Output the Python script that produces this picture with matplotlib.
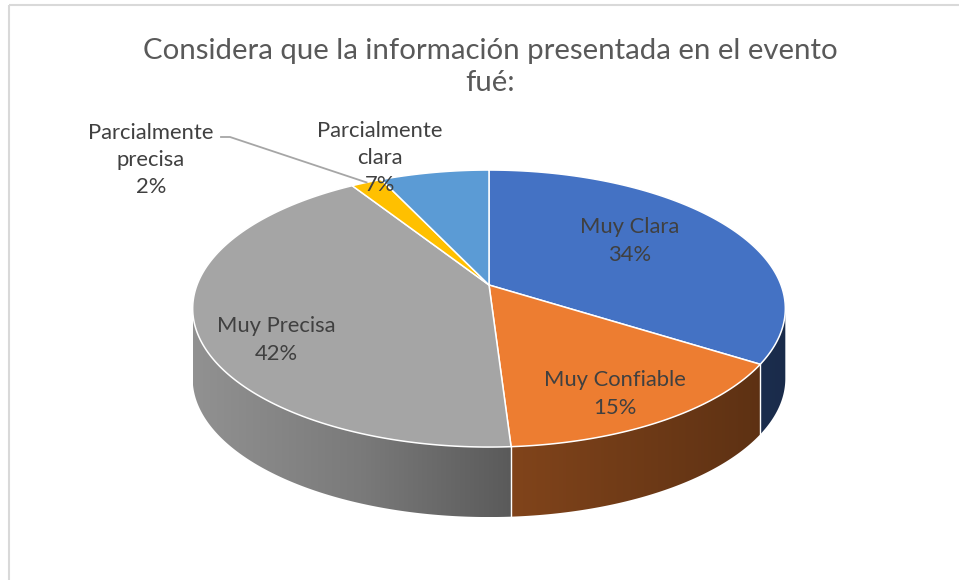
import numpy as np
import matplotlib
matplotlib.use('Agg')
import matplotlib.pyplot as plt
from matplotlib.patches import Polygon, Rectangle
from matplotlib.colors import to_rgb

plt.rcParams['font.family'] = ['Lato', 'DejaVu Sans']

# data
categorias = ['Muy Clara', 'Muy Confiable', 'Muy Precisa', 'Parcialmente\nprecisa', 'Parcialmente\nclara']
porcentajes = [34, 15, 42, 2, 7]
colores = ['#4472C4', '#ED7D31', '#A5A5A5', '#FFC000', '#5B9BD5']
titulo = 'Considera que la información presentada en el evento\nfué:'

# layout (pixels) of the fake 3D pie
CX, CY = 489, 285
RX, RY = 292, 134.5
K = 0.17          # perspective strength
DEPTH = 70
label_pos = [(630, 241), (615, 394), (276, 340), (151, 160), (380, 158)]


def proj(theta, r=1.0):
    u = r * np.sin(theta)
    v = -r * np.cos(theta)
    d = 1 - K * v
    return CX + RX * u / d, CY + RY * v / d


def shade(x):
    return np.interp(x, [193, 360, 516, 785], [0.88, 0.74, 0.54, 0.38])


fig = plt.figure(figsize=(9.59, 5.80), dpi=100)
ax = fig.add_axes([0, 0, 1, 1])
ax.axis('off')

# chart border
ax.add_patch(Rectangle((9, 5), 1200, 1200, fill=False, edgecolor='#d9d9d9', linewidth=1.5))

fracs = np.array(porcentajes) / sum(porcentajes)
edges = np.concatenate([[0], np.cumsum(fracs)]) * 2 * np.pi
front0 = np.arccos(-K)
front1 = 2 * np.pi - front0

# side walls (only the front part is visible)
for i, col in enumerate(colores):
    t0 = max(edges[i], front0)
    t1 = min(edges[i + 1], front1)
    if t0 >= t1:
        continue
    th = np.linspace(t0, t1, 200)
    x, y = proj(th)
    pts = np.column_stack([np.concatenate([x, x[::-1]]), np.concatenate([y, (y + DEPTH)[::-1]])])
    wall = Polygon(pts, closed=True, facecolor='none', edgecolor='none')
    ax.add_patch(wall)
    xs = np.linspace(x.min(), x.max(), 300)
    img = np.clip(np.array(to_rgb(col))[None, None, :] * shade(xs)[None, :, None], 0, 1)
    im = ax.imshow(img, extent=[x.min(), x.max(), y.max() + DEPTH, y.min()],
                   aspect='auto', interpolation='bilinear', zorder=1)
    im.set_clip_path(wall)

# white separators on the walls
for t in edges[1:-1]:
    if front0 < t < front1:
        x, y = proj(t)
        ax.plot([x, x], [y, y + DEPTH], color='white', linewidth=1.0, zorder=2)

# top faces
for i, col in enumerate(colores):
    th = np.linspace(edges[i], edges[i + 1], 200)
    x, y = proj(th)
    pts = np.column_stack([np.concatenate([[CX], x]), np.concatenate([[CY], y])])
    ax.add_patch(Polygon(pts, closed=True, facecolor=col, edgecolor='white',
                         linewidth=1.1, joinstyle='round', zorder=3))

# labels
for i, cat in enumerate(categorias):
    lx, ly = label_pos[i]
    ax.text(lx, ly, f'{cat}\n{porcentajes[i]}%', ha='center', va='center',
            fontsize=15.8, color='#404040', linespacing=1.45, zorder=5)

# leader line for the small slice
mid = (edges[3] + edges[4]) / 2
ex, ey = proj(mid)
ax.plot([221, 230, ex], [137, 137, ey], color='#a6a6a6', linewidth=1.3, zorder=4)

ax.text(490, 67, titulo, ha='center', va='center', fontsize=21.2,
        color='#595959', linespacing=1.33)

ax.set_xlim(0, 959)
ax.set_ylim(580, 0)
fig.savefig('out.png', dpi=100)
